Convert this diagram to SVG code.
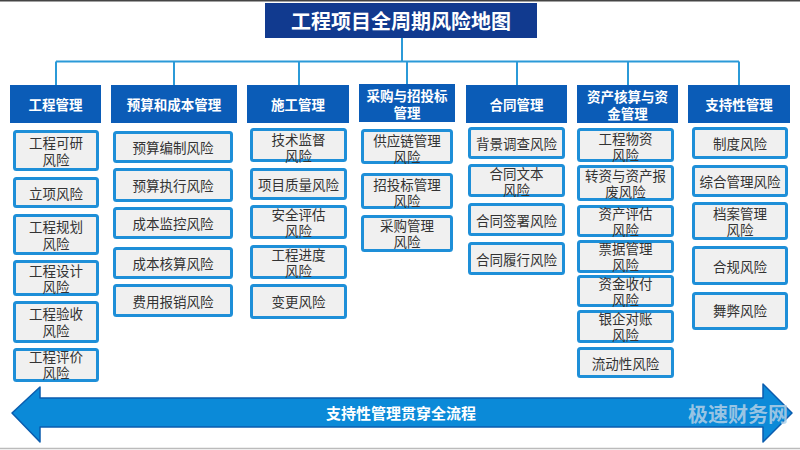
<svg xmlns="http://www.w3.org/2000/svg" width="800" height="450" viewBox="0 0 800 450">
<style>
text{font-family:"Noto Sans CJK SC","Noto Sans",sans-serif;text-anchor:middle;dominant-baseline:central}
.title{fill:#fff;font-size:20px;font-weight:bold}
.hd rect{fill:#0b5cb7}
.hd text{fill:#fff;font-size:13.5px;font-weight:bold}
.bx rect{fill:#f0f0f0;stroke:#1e8fd8;stroke-width:3;rx:2}
.bx text{fill:#333;font-size:13.5px}
.conn{stroke:#2b9ad8;stroke-width:2;fill:none}
</style>
<rect x="0" y="0" width="800" height="450" fill="#fff"/>
<rect x="0" y="0" width="800" height="1.5" fill="#444"/>
<line x1="0" y1="448.5" x2="800" y2="448.5" stroke="#bbb" stroke-width="1.5"/>

<g id="connectors" class="conn">
<path d="M402 38V61.5M56 61.5H739M56 61.5V85M174 61.5V85M299 61.5V85M407 61.5V84M517 61.5V85M628 61.5V85M739 61.5V85"/>
</g>

<g id="title"><rect x="265" y="3" width="272" height="35" fill="#113a8f"/><text class="title" x="401" y="20.5">工程项目全周期风险地图</text></g>

<g id="h1" class="hd"><rect x="10" y="85" width="91" height="38"/><text x="55.5" y="104">工程管理</text></g>
<g id="h2" class="hd"><rect x="111" y="85" width="126" height="38"/><text x="174" y="104">预算和成本管理</text></g>
<g id="h3" class="hd"><rect x="247" y="85" width="102" height="38"/><text x="298" y="104">施工管理</text></g>
<g id="h4" class="hd"><rect x="359" y="84" width="96" height="38"/><text x="407" y="95">采购与招投标<tspan x="407" dy="17">管理</tspan></text></g>
<g id="h5" class="hd"><rect x="466" y="85" width="101" height="38"/><text x="516.5" y="104">合同管理</text></g>
<g id="h6" class="hd"><rect x="577" y="85" width="101" height="38"/><text x="627.5" y="96">资产核算与资<tspan x="627.5" dy="17">金管理</tspan></text></g>
<g id="h7" class="hd"><rect x="688" y="85" width="102" height="38"/><text x="739" y="104">支持性管理</text></g>

<g id="c1b1" class="bx"><rect x="14.5" y="131.5" width="83" height="38"/><text x="56" y="142">工程可研<tspan x="56" dy="17">风险</tspan></text></g>
<g id="c1b2" class="bx"><rect x="14.5" y="178.5" width="83" height="28"/><text x="56" y="192.5">立项风险</text></g>
<g id="c1b3" class="bx"><rect x="14.5" y="215.5" width="83" height="38"/><text x="56" y="226">工程规划<tspan x="56" dy="17">风险</tspan></text></g>
<g id="c1b4" class="bx"><rect x="14.5" y="261.5" width="83" height="33"/><text x="56" y="270">工程设计<tspan x="56" dy="16">风险</tspan></text></g>
<g id="c1b5" class="bx"><rect x="14.5" y="302.5" width="83" height="39"/><text x="56" y="313">工程验收<tspan x="56" dy="17">风险</tspan></text></g>
<g id="c1b6" class="bx"><rect x="14.5" y="349.5" width="83" height="31"/><text x="56" y="356">工程评价<tspan x="56" dy="16">风险</tspan></text></g>

<g id="c2b1" class="bx"><rect x="114.5" y="132.5" width="117" height="29"/><text x="173" y="147">预算编制风险</text></g>
<g id="c2b2" class="bx"><rect x="114.5" y="169.5" width="117" height="31"/><text x="173" y="185">预算执行风险</text></g>
<g id="c2b3" class="bx"><rect x="114.5" y="208.5" width="117" height="29"/><text x="173" y="223">成本监控风险</text></g>
<g id="c2b4" class="bx"><rect x="114.5" y="248.5" width="117" height="29"/><text x="173" y="263">成本核算风险</text></g>
<g id="c2b5" class="bx"><rect x="114.5" y="285.5" width="117" height="30"/><text x="173" y="300.5">费用报销风险</text></g>

<g id="c3b1" class="bx"><rect x="251.5" y="129.5" width="94" height="31"/><text x="298.5" y="139">技术监督<tspan x="298.5" dy="16">风险</tspan></text></g>
<g id="c3b2" class="bx"><rect x="251.5" y="169.5" width="94" height="29"/><text x="298.5" y="184">项目质量风险</text></g>
<g id="c3b3" class="bx"><rect x="251.5" y="206.5" width="94" height="31"/><text x="298.5" y="214">安全评估<tspan x="298.5" dy="16">风险</tspan></text></g>
<g id="c3b4" class="bx"><rect x="251.5" y="246.5" width="94" height="31"/><text x="298.5" y="254">工程进度<tspan x="298.5" dy="16">风险</tspan></text></g>
<g id="c3b5" class="bx"><rect x="251.5" y="285.5" width="94" height="32"/><text x="298.5" y="301">变更风险</text></g>

<g id="c4b1" class="bx"><rect x="362.5" y="130.5" width="89" height="32"/><text x="407" y="140">供应链管理<tspan x="407" dy="16">风险</tspan></text></g>
<g id="c4b2" class="bx"><rect x="362.5" y="174.5" width="89" height="33"/><text x="407" y="184">招投标管理<tspan x="407" dy="16">风险</tspan></text></g>
<g id="c4b3" class="bx"><rect x="362.5" y="216.5" width="89" height="34"/><text x="407" y="225">采购管理<tspan x="407" dy="16">风险</tspan></text></g>

<g id="c5b1" class="bx"><rect x="469.5" y="128.5" width="94" height="29"/><text x="516.5" y="143">背景调查风险</text></g>
<g id="c5b2" class="bx"><rect x="469.5" y="165.5" width="94" height="30"/><text x="516.5" y="173">合同文本<tspan x="516.5" dy="16">风险</tspan></text></g>
<g id="c5b3" class="bx"><rect x="469.5" y="204.5" width="94" height="30"/><text x="516.5" y="219.5">合同签署风险</text></g>
<g id="c5b4" class="bx"><rect x="469.5" y="243.5" width="94" height="30"/><text x="516.5" y="258.5">合同履行风险</text></g>

<g id="c6b1" class="bx"><rect x="578.5" y="129.5" width="94" height="31"/><text x="625.5" y="138">工程物资<tspan x="625.5" dy="16">风险</tspan></text></g>
<g id="c6b2" class="bx"><rect x="578.5" y="166.5" width="94" height="33"/><text x="625.5" y="175">转资与资产报<tspan x="625.5" dy="16">废风险</tspan></text></g>
<g id="c6b3" class="bx"><rect x="578.5" y="206.5" width="94" height="29"/><text x="625.5" y="213">资产评估<tspan x="625.5" dy="16">风险</tspan></text></g>
<g id="c6b4" class="bx"><rect x="578.5" y="241.5" width="94" height="30"/><text x="625.5" y="248">票据管理<tspan x="625.5" dy="16">风险</tspan></text></g>
<g id="c6b5" class="bx"><rect x="578.5" y="276.5" width="94" height="29"/><text x="625.5" y="283">资金收付<tspan x="625.5" dy="16">风险</tspan></text></g>
<g id="c6b6" class="bx"><rect x="578.5" y="311.5" width="94" height="30"/><text x="625.5" y="318">银企对账<tspan x="625.5" dy="16">风险</tspan></text></g>
<g id="c6b7" class="bx"><rect x="578.5" y="348.5" width="94" height="28"/><text x="625.5" y="362.5">流动性风险</text></g>

<g id="c7b1" class="bx"><rect x="693.5" y="128.5" width="93" height="29"/><text x="740" y="143">制度风险</text></g>
<g id="c7b2" class="bx"><rect x="693.5" y="166.5" width="93" height="29"/><text x="740" y="181">综合管理风险</text></g>
<g id="c7b3" class="bx"><rect x="693.5" y="203.5" width="93" height="35"/><text x="740" y="213">档案管理<tspan x="740" dy="16">风险</tspan></text></g>
<g id="c7b4" class="bx"><rect x="693.5" y="247.5" width="93" height="36"/><text x="740" y="265.5">合规风险</text></g>
<g id="c7b5" class="bx"><rect x="693.5" y="293.5" width="93" height="35"/><text x="740" y="310">舞弊风险</text></g>

<g id="arrow">
<polygon points="12,413 40,387 40,398 763,398 763,384 792,413 763,442 763,427 40,427 40,442" fill="#0b8ad8" stroke="#0a5cae" stroke-width="1.5" stroke-linejoin="round"/>
<text x="401" y="412.5" fill="#fff" font-size="15" font-weight="bold">支持性管理贯穿全流程</text>
<text x="738" y="413" fill="#b3cfe6" fill-opacity="0.85" font-size="20" font-weight="bold">极速财务网</text>
</g>
</svg>
